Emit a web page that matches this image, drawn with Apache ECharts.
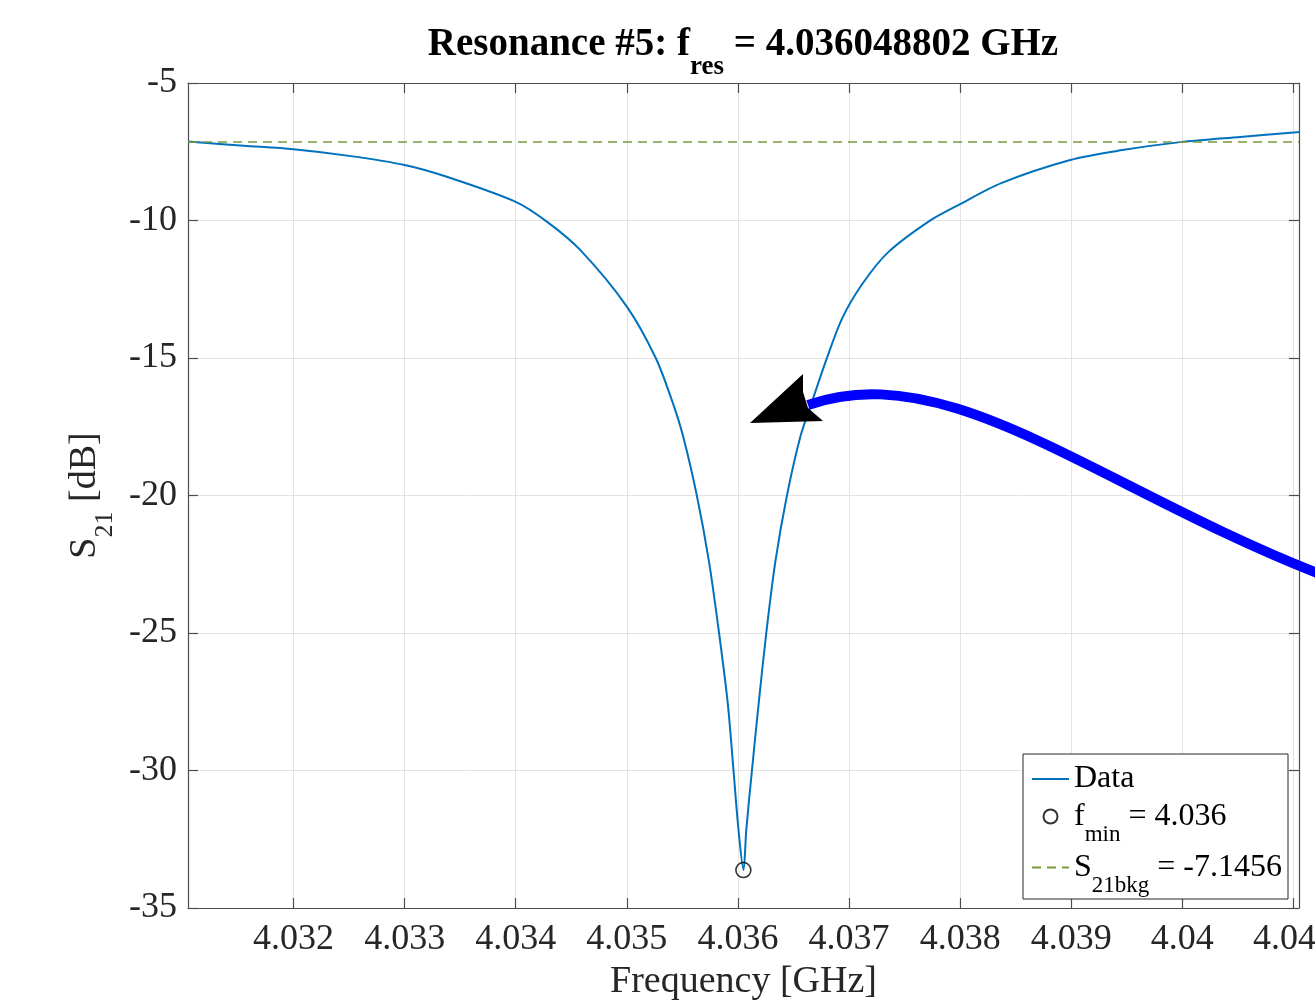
<!DOCTYPE html>
<html>
<head>
<meta charset="utf-8">
<title>Resonance #5</title>
<script src="https://cdn.jsdelivr.net/npm/echarts@6.0.0/dist/echarts.min.js"></script>
<style>
  html, body { margin: 0; padding: 0; background: #fff; }
  #chart { width: 1315px; height: 1007px; }
</style>
</head>
<body>
<div id="chart"></div>
<script>
// values
var freqGHz = [4.03105, 4.03155, 4.032, 4.0325, 4.033, 4.03338, 4.034, 4.03428, 4.03458, 4.035,
  4.03526, 4.035409, 4.035508, 4.03563, 4.03574, 4.03583, 4.03591, 4.03596, 4.036005, 4.03605,
  4.036075, 4.036126, 4.036185, 4.036255, 4.036336, 4.036441, 4.036561, 4.036669, 4.036795, 4.036939,
  4.037119, 4.037353, 4.037722, 4.037983, 4.03837, 4.038991, 4.039459, 4.039981, 4.04052, 4.04106];
var s21dB = [-7.13, -7.28, -7.41, -7.65, -7.98, -8.41, -9.32, -10.04, -11.07, -13.13,
  -15.0, -16.58, -17.87, -20.0, -22.42, -25.0, -27.62, -30.0, -32.16, -33.62,
  -32.16, -30.0, -27.62, -25.0, -22.42, -20.0, -17.87, -16.56, -15.07, -13.55,
  -12.31, -11.15, -10.02, -9.44, -8.64, -7.80, -7.44, -7.15, -6.96, -6.78];
var fMin = 4.036048802;
var s21Min = -33.62;
var s21Bkg = -7.1456;
var xRange = [4.03105, 4.04105];
var xTicks = [4.032, 4.033, 4.034, 4.035, 4.036, 4.037, 4.038, 4.039, 4.04, 4.041];

var font = '"Liberation Serif", "Times New Roman", serif';
var axisCol = '#4d4d4d';

var dataPts = freqGHz.map(function (f, i) { return [f, s21dB[i]]; });
var bkgPts = [[xRange[0], s21Bkg], [xRange[1], s21Bkg]];

var legendText = {
  'Data': '{b|Data}',
  'fmin': '{b|f}{s|min}{b| = 4.036}',
  'S21bkg': '{b|S}{s|21bkg}{b| = -7.1456}'
};
// line entries: hide the dot ECharts puts on line legend icons
var noDot = { color: 'rgba(0,0,0,0)', borderColor: 'rgba(0,0,0,0)', borderWidth: 0 };

var mchart = echarts.init(document.getElementById('chart'));

var option = {
  animation: false,
  backgroundColor: '#fff',
  title: {
    text: '{b|Resonance #5: f}{s|res}{b| = 4.036048802 GHz}',
    left: 743,
    textAlign: 'center',
    top: 25,
    padding: 0,
    textStyle: {
      rich: {
        b: { fontFamily: font, fontSize: 39, fontWeight: 'bold', color: '#000', lineHeight: 39 },
        s: { fontFamily: font, fontSize: 27, fontWeight: 'bold', color: '#000', lineHeight: 27, padding: [45, 0, 0, 0] }
      }
    }
  },
  grid: { left: 188, top: 83, right: 16, bottom: 99, outerBoundsMode: 'none' },
  legend: {
    orient: 'vertical',
    left: 1023,
    top: 754,
    padding: [9, 6, 2, 8],
    itemGap: -8,
    itemWidth: 37,
    itemHeight: 14,
    backgroundColor: '#fff',
    borderColor: '#262626',
    borderWidth: 1,
    borderRadius: 0,
    selectedMode: false,
    data: [
      { name: 'Data', itemStyle: noDot },
      { name: 'fmin' },
      { name: 'S21bkg', itemStyle: noDot }
    ],
    formatter: function (name) { return legendText[name]; },
    textStyle: {
      fontFamily: font,
      fontSize: 32,
      color: '#000',
      rich: {
        b: { fontFamily: font, fontSize: 32, color: '#000', lineHeight: 22 },
        s: { fontFamily: font, fontSize: 23, color: '#000', lineHeight: 14, padding: [36, 0, 0, 0] }
      }
    }
  },
  xAxis: [{
    type: 'value',
    min: xRange[0],
    max: xRange[1],
    name: 'Frequency [GHz]',
    nameLocation: 'middle',
    nameGap: 53,
    nameTextStyle: { fontFamily: font, fontSize: 38, color: '#262626' },
    axisLine: { show: true, lineStyle: { color: axisCol, width: 1.2 } },
    axisTick: { show: true, inside: true, length: 10, customValues: xTicks, lineStyle: { color: axisCol, width: 1.2 } },
    axisLabel: {
      customValues: xTicks,
      margin: 14,
      fontFamily: font,
      fontSize: 36,
      color: '#262626',
      formatter: function (v) { return String(+v.toFixed(3)); }
    },
    splitLine: { show: true, lineStyle: { color: '#e3e3e3', width: 1 } }
  }, {
    type: 'value',
    position: 'top',
    min: xRange[0],
    max: xRange[1],
    axisLine: { show: true, lineStyle: { color: axisCol, width: 1.2 } },
    axisTick: { show: true, inside: true, length: 10, customValues: xTicks, lineStyle: { color: axisCol, width: 1.2 } },
    axisLabel: { show: false },
    splitLine: { show: false }
  }],
  yAxis: [{
    type: 'value',
    min: -35,
    max: -5,
    interval: 5,
    name: '{b|S}{s|21}{b| [dB]}',
    nameLocation: 'middle',
    nameRotate: 90,
    nameGap: 64,
    nameTextStyle: {
      rich: {
        b: { fontFamily: font, fontSize: 38, color: '#262626', lineHeight: 38 },
        s: { fontFamily: font, fontSize: 26, color: '#262626', lineHeight: 26, padding: [40, 0, 0, 0] }
      }
    },
    axisLine: { show: true, lineStyle: { color: axisCol, width: 1.2 } },
    axisTick: { show: true, inside: true, length: 10, lineStyle: { color: axisCol, width: 1.2 } },
    axisLabel: { margin: 11, fontFamily: font, fontSize: 36, color: '#262626' },
    splitLine: { show: true, lineStyle: { color: '#e3e3e3', width: 1 } }
  }, {
    type: 'value',
    position: 'right',
    min: -35,
    max: -5,
    interval: 5,
    axisLine: { show: true, lineStyle: { color: axisCol, width: 1.2 } },
    axisTick: { show: true, inside: true, length: 10, lineStyle: { color: axisCol, width: 1.2 } },
    axisLabel: { show: false },
    splitLine: { show: false }
  }],
  series: [
    {
      name: 'Data',
      type: 'line',
      data: dataPts,
      symbol: 'none',
      smooth: 0.3,
      lineStyle: { color: '#0072BD', width: 2 },
      itemStyle: { color: '#0072BD' },
      z: 3
    },
    {
      name: 'fmin',
      type: 'scatter',
      data: [[fMin, s21Min]],
      symbol: 'circle',
      symbolSize: 15,
      itemStyle: { color: 'rgba(0,0,0,0)', borderColor: '#000', borderWidth: 1.6 },
      z: 4
    },
    {
      name: 'S21bkg',
      type: 'line',
      data: bkgPts,
      symbol: 'none',
      lineStyle: { color: '#7a9a3a', width: 1.6, type: [9, 6] },
      itemStyle: { color: '#7a9a3a' },
      z: 5
    }
  ],
  // hand-drawn annotation arrow
  graphic: [
    {
      type: 'bezierCurve',
      z: 100,
      shape: { x1: 808, y1: 405, cpx1: 950, cpy1: 355, cpx2: 1100, cpy2: 490, x2: 1330, y2: 578 },
      style: { stroke: '#0000ff', lineWidth: 10, fill: 'none' }
    },
    {
      type: 'polygon',
      z: 101,
      shape: { points: [[750, 423], [803, 374], [803, 392], [808, 408], [823, 421]] },
      style: { fill: '#000' }
    }
  ]
};

mchart.setOption(option);
</script>
</body>
</html>
